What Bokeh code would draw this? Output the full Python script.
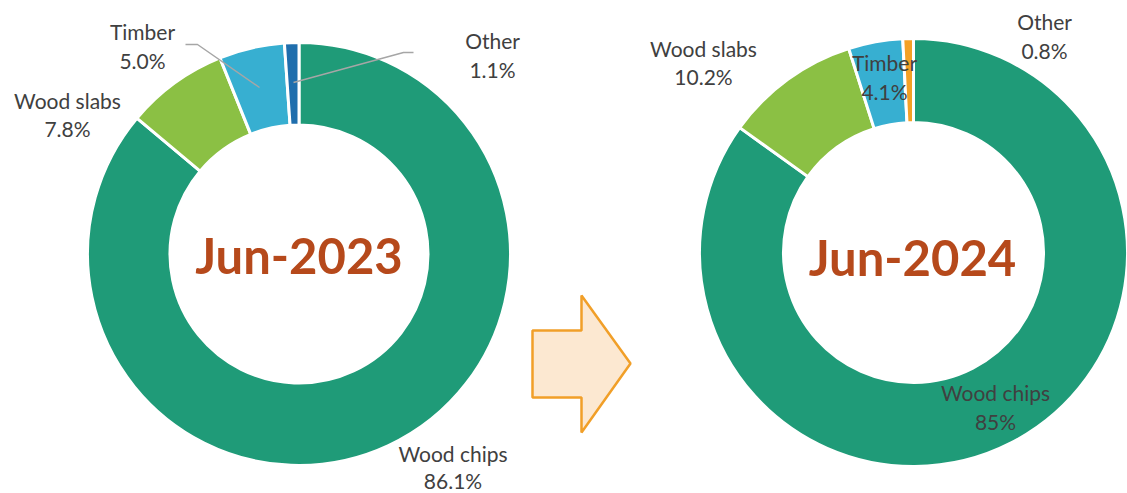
import math
from bokeh.plotting import figure
from bokeh.models import Range1d
from bokeh.core.properties import value
from bokeh.embed import file_html
from bokeh.resources import INLINE

# ---- data ----
categories = ["Wood chips", "Wood slabs", "Timber", "Other"]
share_2023 = [86.1, 7.8, 5.0, 1.1]
share_2024 = [85.0, 10.2, 4.1, 0.8]
labels_2023 = ["86.1%", "7.8%", "5.0%", "1.1%"]
labels_2024 = ["85%", "10.2%", "4.1%", "0.8%"]
titles = ["Jun-2023", "Jun-2024"]
colors_2023 = ["#1F9B78", "#8BC044", "#37AFD1", "#1F6EAD"]
colors_2024 = ["#1F9B78", "#8BC044", "#37AFD1", "#F4A125"]

# ---- layout (picture pixel coordinates) ----
W, H = 1127, 493
FONT = "Lato"
TXT = "#404040"

def Y(py):
    return H - py

p = figure(width=W, height=H, output_backend="svg", toolbar_location=None,
           x_range=Range1d(0, W), y_range=Range1d(0, H),
           min_border=0)
p.axis.visible = False
p.grid.visible = False
p.outline_line_color = None
p.background_fill_color = "white"

def donut(cx, cy, r_out, r_in, shares, colors):
    total = sum(shares)
    cum = 0.0
    starts, ends = [], []
    for s in shares:
        starts.append(math.pi / 2 - 2 * math.pi * cum / total)
        cum += s
        ends.append(math.pi / 2 - 2 * math.pi * cum / total)
    p.annular_wedge(x=[cx] * len(shares), y=[Y(cy)] * len(shares),
                    inner_radius=r_in, outer_radius=r_out,
                    start_angle=starts, end_angle=ends, direction="clock",
                    fill_color=colors, line_color="white", line_width=3)

donut(298.5, 253.5, 211.5, 129, share_2023, colors_2023)
donut(913, 252, 214, 130, share_2024, colors_2024)

# leader lines (left chart)
p.line(x=[185, 197, 259], y=[Y(44), Y(44), Y(87)], line_color="#A6A6A6", line_width=1.5)
p.line(x=[413, 403, 293], y=[Y(52), Y(52), Y(82)], line_color="#A6A6A6", line_width=1.5)

# data labels: (name position, value position) per category
pos_2023 = [((452.5, 453), (452.5, 480)),
            ((67, 99.5), (67, 128)),
            ((142, 31), (142, 60)),
            ((492, 39.5), (492, 69))]
pos_2024 = [((995, 392), (995, 421)),
            ((703, 48), (703, 76)),
            ((884, 62), (884, 91)),
            ((1044, 21), (1044, 50))]

def put_labels(pos, vals):
    xs, ys, ts = [], [], []
    for (n, v), name, val in zip(pos, categories, vals):
        xs += [n[0], v[0]]
        ys += [Y(n[1]), Y(v[1])]
        ts += [name, val]
    p.text(x=xs, y=ys, text=ts, text_font=value(FONT), text_font_size="21px",
           text_color=TXT, text_align="center", text_baseline="middle")

put_labels(pos_2023, labels_2023)
put_labels(pos_2024, labels_2024)

# center titles
p.text(x=[298.5, 912], y=[Y(254), Y(256)], text=titles, text_font=value(FONT),
       text_font_size="49px", text_font_style="bold", text_color="#B6491B",
       text_align="center", text_baseline="middle")

# arrow
ax = [532, 581, 581, 630, 581, 581, 532]
ay = [330, 330, 295, 363, 432, 397, 397]
p.patch(x=ax, y=[Y(v) for v in ay], fill_color="#FCE8D1",
        line_color="#F19F28", line_width=2.5)

open("out.html", "w").write(file_html(p, INLINE))
